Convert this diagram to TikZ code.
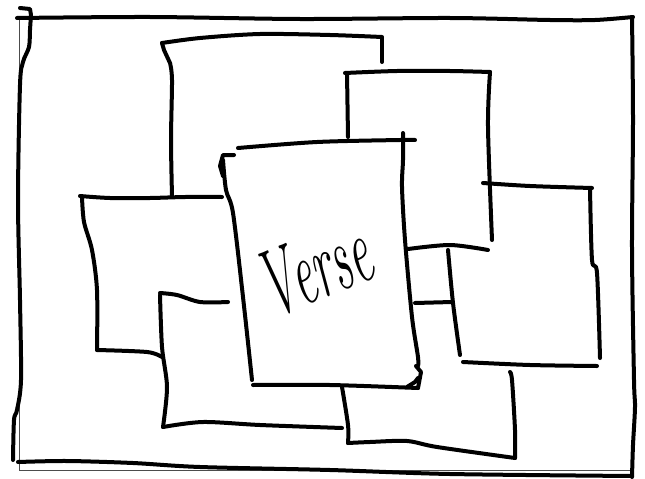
\documentclass[tikz,border=0pt]{standalone}
\usepackage{fontspec}
\begin{document}
\begin{tikzpicture}[x=1pt,y=-1pt,
  ink/.style={line width=4pt, line cap=round, line join=round, black},
  thinedge/.style={line width=0.8pt, black!70},
  hand/.style={font=\fontsize{95}{95}\selectfont\itshape, inner sep=0pt}]
\useasboundingbox[fill=white] (0,0) rectangle (645,479);

% faint paper edges
\draw[thinedge] (19,18) -- (19,470) -- (632,470);

% outer frame
\draw[ink] plot[smooth,tension=0.5] coordinates {(17,18) (150,17) (300,19) (450,18) (550,20) (595,20) (633,17)};
\draw[ink] (20,8) -- (30,9) -- (31,15) plot[smooth,tension=0.5] coordinates {(31,15) (30,30) (29,47) (23,62) (20,85) (18,200) (20,300) (21,380) (17,410) (14,420) (13,460)};
\draw[ink] plot[smooth,tension=0.5] coordinates {(632,17) (633,120) (632,250) (634,380) (635,407) (633,445) (632,477)};
\draw[ink] plot[smooth,tension=0.5] coordinates {(18,462) (67,461) (133,463) (200,467) (330,470) (450,474) (632,476)};

% top centre sheet
\draw[ink] plot[smooth,tension=0.5] coordinates {(162,43) (200,38) (260,34) (330,35) (382,37)};
\draw[ink] (382,38) -- (382,62);
\draw[ink] (162,43) -- (164,50) -- (170,63) plot[smooth,tension=0.5] coordinates {(170,63) (172,80) (171,140) (172,196)};

% left sheet
\draw[ink] plot[smooth,tension=0.5] coordinates {(80,196) (110,198) (150,198) (185,197) (222,197)};
\draw[ink] plot[smooth,tension=0.5] coordinates {(82,197) (84,222) (92,250) (97,290) (97,350)};
\draw[ink] plot[smooth,tension=0.5] coordinates {(97,350) (147,352) (162,357)};

% lower left sheet
\draw[ink] plot[smooth,tension=0.5] coordinates {(160,293) (177,295) (200,302) (228,302)};
\draw[ink] plot[smooth,tension=0.5] coordinates {(160,295) (162,347) (167,387) (163,427)};
\draw[ink] plot[smooth,tension=0.5] coordinates {(163,427) (203,422) (260,425) (342,428)};

% top right sheet
\draw[ink] plot[smooth,tension=0.5] coordinates {(345,73) (397,71) (450,71) (490,72)};
\draw[ink] (347,73) -- (348,137);
\draw[ink] plot[smooth,tension=0.5] coordinates {(490,72) (488,127) (492,240)};
\draw[ink] plot[smooth,tension=0.5] coordinates {(408,249) (450,245) (488,250)};

% right sheet
\draw[ink] plot[smooth,tension=0.5] coordinates {(483,183) (530,186) (592,188)};
\draw[ink] plot[smooth,tension=0.5] coordinates {(590,188) (592,260) (597,273) (600,358)};
\draw[ink] plot[smooth,tension=0.5] coordinates {(448,250) (453,303) (460,355)};
\draw[ink] plot[smooth,tension=0.5] coordinates {(463,362) (530,365) (597,366)};

% lower right sheet
\draw[ink] (415,303) -- (452,302);
\draw[ink] plot[smooth,tension=0.5] coordinates {(342,387) (348,425) (348,443)};
\draw[ink] plot[smooth,tension=0.5] coordinates {(348,443) (370,442) (407,441) (437,447) (515,458)};
\draw[ink] plot[smooth,tension=0.5] coordinates {(510,372) (512,380) (515,430) (515,458)};

% centre sheet (Verse)
\draw[ink] plot[smooth,tension=0.5] coordinates {(238,148) (317,142) (400,140) (415,140)};
\draw[ink] (234,155) -- (223,155) -- (220,166) -- (223,176);
\draw[ink] plot[smooth,tension=0.5] coordinates {(223,160) (226,190) (233,213) (243,297) (252,380)};
\draw[ink] plot[smooth,tension=0.5] coordinates {(403,133) (403,160) (402,187) (405,240) (412,317) (418,357) (418,366)};
\draw[ink] (416,366) -- (421,372) -- (418,388);
\draw[ink] (407,387) -- (415,382) -- (418,378);
\draw[ink] plot[smooth,tension=0.5] coordinates {(253,385) (330,385) (418,388)};

\node[hand, rotate=22] (verse) at (314,268) {\scalebox{0.5}[1]{Verse}};
\end{tikzpicture}
\end{document}
